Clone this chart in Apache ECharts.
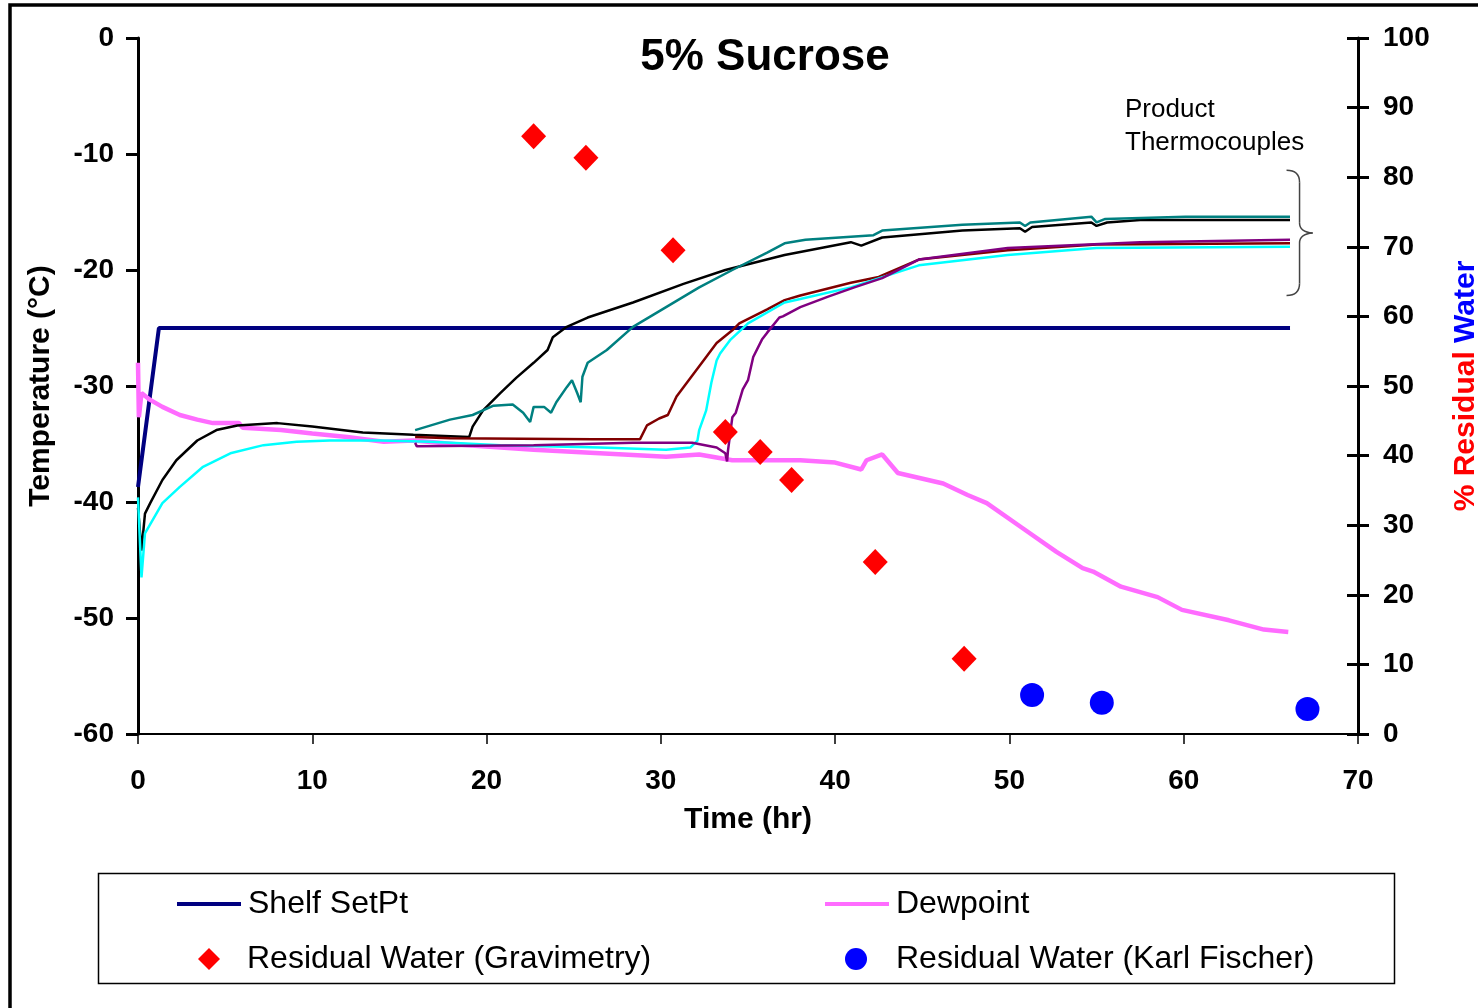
<!DOCTYPE html>
<html>
<head>
<meta charset="utf-8">
<title>5% Sucrose</title>
<script src="https://cdn.jsdelivr.net/npm/echarts@6/dist/echarts.min.js"></script>
<style>
  html, body { margin: 0; padding: 0; background: #fff; }
  #chart { width: 1478px; height: 1008px; }
</style>
</head>
<body>
<div id="chart"></div>
<script>
// Time axis (hr) and the two value axes
const timeTicks = [0, 10, 20, 30, 40, 50, 60, 70];
const tempTicks = [-60, -50, -40, -30, -20, -10, 0];
const waterTicks = [0, 10, 20, 30, 40, 50, 60, 70, 80, 90, 100];

// Shelf set point, [time hr, temperature °C]
const shelfSetPt = [[0, -38.7], [1.2, -25], [66.1, -25]];

// Chamber dewpoint, [time hr, °C]
const dewpoint = [
  [0, -28.0], [0.05, -32.7], [0.2, -30.6], [0.7, -31.2], [1.4, -31.8], [2.4, -32.5],
  [3.4, -32.9], [4.3, -33.2], [5.8, -33.2], [6.0, -33.6], [8.2, -33.8], [10.0, -34.1],
  [12.0, -34.4], [14.1, -34.8], [15.8, -34.7], [18.9, -35.1], [22.7, -35.5], [26.5, -35.8],
  [30.3, -36.1], [32.2, -35.9], [34.1, -36.4], [38.0, -36.4], [40.0, -36.6], [41.5, -37.2],
  [41.8, -36.4], [42.7, -35.9], [43.6, -37.5], [46.2, -38.4], [47.6, -39.4], [48.7, -40.1],
  [50.7, -42.2], [52.7, -44.3], [54.2, -45.7], [54.8, -46.0], [56.4, -47.3], [58.5, -48.2],
  [59.9, -49.3], [62.6, -50.2], [64.6, -51.0], [66.0, -51.2]
];

// Product thermocouples, [time hr, °C]
const tcBlack = [
  [0, -40.5], [0.2, -44.2], [0.4, -41.0], [0.7, -40.1], [1.4, -38.1], [2.2, -36.4],
  [3.4, -34.7], [4.5, -33.8], [5.7, -33.4], [8.0, -33.2], [10.0, -33.5], [12.9, -34.0],
  [15.8, -34.2], [19.0, -34.4], [19.2, -33.5], [19.8, -32.1], [20.8, -30.6], [21.7, -29.3],
  [22.7, -28.0], [23.5, -26.9], [23.8, -25.8], [24.6, -24.9], [25.8, -24.1], [28.4, -22.8],
  [31.3, -21.2], [33.7, -20.0], [37.1, -18.7], [40.9, -17.6], [41.5, -17.9], [42.7, -17.2],
  [47.3, -16.6], [50.6, -16.4], [50.9, -16.7], [51.3, -16.3], [54.7, -15.9], [55.0, -16.2],
  [55.6, -15.9], [57.5, -15.7], [66.1, -15.7]
];
const tcTeal = [
  [15.9, -33.8], [17.9, -32.9], [19.2, -32.5], [20.4, -31.7], [21.5, -31.6], [22.1, -32.3],
  [22.5, -33.1], [22.7, -31.8], [23.3, -31.8], [23.7, -32.3], [24.0, -31.4], [24.6, -30.1],
  [24.9, -29.5], [25.2, -30.6], [25.4, -31.4], [25.5, -29.2], [25.8, -28.0], [26.9, -26.9],
  [28.4, -24.9], [30.3, -23.2], [32.2, -21.5], [34.1, -20.0], [36.1, -18.5], [37.1, -17.7],
  [38.3, -17.4], [42.2, -17.0], [42.7, -16.6], [47.3, -16.1], [50.6, -15.9], [50.9, -16.2],
  [51.2, -15.9], [54.7, -15.4], [55.0, -15.9], [55.5, -15.6], [60.1, -15.4], [66.1, -15.4]
];
const tcMaroon = [
  [15.9, -34.4], [17.9, -34.5], [26.1, -34.6], [28.8, -34.6], [29.2, -33.4], [29.9, -32.8],
  [30.4, -32.5], [30.9, -30.9], [31.9, -28.9], [32.6, -27.5], [33.2, -26.3], [34.1, -25.2],
  [34.5, -24.6], [36.1, -23.4], [37.1, -22.6], [38.0, -22.2], [40.9, -21.1], [42.5, -20.6],
  [44.8, -19.1], [49.9, -18.3], [55.0, -17.8], [66.1, -17.7]
];
const tcCyan = [
  [0, -39.6], [0.2, -46.5], [0.4, -42.7], [1.4, -40.1], [2.4, -38.7], [3.7, -37.0],
  [5.3, -35.8], [7.2, -35.1], [9.1, -34.8], [11.0, -34.7], [13.9, -34.7], [16.8, -34.8],
  [20.8, -35.1], [26.5, -35.3], [30.3, -35.5], [31.7, -35.3], [32.1, -34.7], [32.2, -33.8],
  [32.6, -32.1], [32.9, -29.7], [33.2, -27.8], [33.4, -27.2], [34.0, -26.0], [35.0, -24.6],
  [37.1, -22.8], [38.0, -22.5], [40.9, -21.5], [44.8, -19.6], [49.9, -18.7], [55.0, -18.1],
  [66.1, -18.0]
];
const tcPurple = [
  [15.9, -34.9], [16.0, -35.2], [22.7, -35.1], [28.4, -34.9], [31.8, -34.9], [33.2, -35.3],
  [33.7, -35.8], [33.8, -36.5], [33.85, -35.6], [34.1, -32.7], [34.3, -32.3], [34.7, -30.3],
  [35.0, -29.5], [35.3, -27.5], [35.8, -26.0], [36.1, -25.4], [36.8, -24.1], [37.0, -24.0],
  [38.0, -23.2], [39.6, -22.3], [41.1, -21.5], [42.7, -20.7], [44.8, -19.1], [49.9, -18.1],
  [57.5, -17.6], [66.1, -17.4]
];

// Residual water (%), gravimetric and Karl Fischer samples
const gravTimes = [22.7, 25.7, 30.7, 33.7, 35.7, 37.5, 42.3, 47.4];
const gravWater = [85.9, 82.8, 69.5, 43.4, 40.5, 36.5, 24.7, 10.8];
const kfTimes = [51.3, 55.3, 67.1];
const kfWater = [5.6, 4.5, 3.6];

const FONT = 'Arial, "Liberation Sans", Helvetica, sans-serif';
const zip = (xs, ys) => xs.map((x, i) => [x, ys[i]]);

const chart = echarts.init(document.getElementById('chart'), null, { renderer: 'canvas' });

const tcLine = (name, data, color) => ({
  name, type: 'line', data, xAxisIndex: 0, yAxisIndex: 0, symbol: 'none', z: 3,
  lineStyle: { color, width: 2.5 }, itemStyle: { color }
});

const legendText = { fontFamily: FONT, fontSize: 32, color: '#000' };
const legendBase = { orient: 'horizontal', itemGap: 0, selectedMode: false, padding: 0 };

const plotRect = {
  left: 138, top: 38, width: 1220, height: 696, containLabel: false, outerBoundsMode: 'none'
};

const option = {
  animation: false,
  backgroundColor: '#fff',
  grid: [Object.assign({}, plotRect), Object.assign({}, plotRect)],
  xAxis: [
    {
      type: 'value', gridIndex: 0, min: 0, max: 70, interval: 10,
      name: 'Time (hr)', nameLocation: 'middle', nameGap: 71,
      nameTextStyle: { fontFamily: FONT, fontSize: 30, fontWeight: 'bold', color: '#000' },
      axisLine: { show: true, onZero: false, lineStyle: { color: '#000', width: 2 } },
      axisTick: { show: true, length: 10, lineStyle: { color: '#000', width: 1.5 } },
      axisLabel: {
        fontFamily: FONT, fontSize: 28, fontWeight: 'bold', color: '#000', margin: 33,
        formatter: v => (timeTicks.includes(v) ? String(v) : '')
      },
      splitLine: { show: false }
    },
    {
      // companion axis for the inner tick marks on the right
      type: 'value', gridIndex: 1, min: 0, max: 70, show: false
    }
  ],
  yAxis: [
    {
      type: 'value', gridIndex: 0, min: -60, max: 0, interval: 10, position: 'left',
      name: 'Temperature (°C)', nameLocation: 'middle', nameGap: 82, nameRotate: 90,
      nameTextStyle: { fontFamily: FONT, fontSize: 30, fontWeight: 'bold', color: '#000' },
      axisLine: { show: true, onZero: false, lineStyle: { color: '#000', width: 3 } },
      axisTick: { show: true, length: 12, lineStyle: { color: '#000', width: 3 } },
      axisLabel: {
        fontFamily: FONT, fontSize: 28, fontWeight: 'bold', color: '#000', margin: 24,
        formatter: v => (tempTicks.includes(v) ? String(v) : '')
      },
      splitLine: { show: false }
    },
    {
      type: 'value', gridIndex: 0, min: 0, max: 100, interval: 10, position: 'right',
      name: '{r|% Residual} {b|Water}', nameLocation: 'middle', nameGap: 93, nameRotate: 90,
      nameTextStyle: {
        fontFamily: FONT, fontSize: 30, fontWeight: 'bold',
        rich: {
          r: { fontFamily: FONT, fontSize: 30, fontWeight: 'bold', color: '#ff0000' },
          b: { fontFamily: FONT, fontSize: 30, fontWeight: 'bold', color: '#0000ff' }
        }
      },
      axisLine: { show: true, onZero: false, lineStyle: { color: '#000', width: 3 } },
      axisTick: { show: true, length: 11, lineStyle: { color: '#000', width: 3 } },
      axisLabel: {
        fontFamily: FONT, fontSize: 28, fontWeight: 'bold', color: '#000', margin: 25,
        formatter: v => (waterTicks.includes(v) ? String(v) : '')
      },
      splitLine: { show: false }
    },
    {
      // inner half of the crossing ticks on the right-hand axis
      type: 'value', gridIndex: 1, min: 0, max: 100, interval: 10, position: 'right',
      axisLine: { show: false, onZero: false },
      axisTick: { show: true, inside: true, length: 11, lineStyle: { color: '#000', width: 3 } },
      axisLabel: { show: false },
      splitLine: { show: false }
    }
  ],
  legend: [
    Object.assign({}, legendBase, {
      data: [{ name: 'Shelf SetPt', icon: 'rect' }], left: 177, top: 888,
      itemWidth: 64, itemHeight: 4, textStyle: Object.assign({ padding: [0, 0, 0, 2] }, legendText)
    }),
    Object.assign({}, legendBase, {
      data: [{ name: 'Dewpoint', icon: 'rect' }], left: 825, top: 888,
      itemWidth: 64, itemHeight: 4, textStyle: Object.assign({ padding: [0, 0, 0, 2] }, legendText)
    }),
    Object.assign({}, legendBase, {
      data: [{ name: 'Residual Water (Gravimetry)', icon: 'diamond' }], left: 198, top: 943,
      itemWidth: 22, itemHeight: 22, textStyle: Object.assign({ padding: [0, 0, 0, 22] }, legendText)
    }),
    Object.assign({}, legendBase, {
      data: [{ name: 'Residual Water (Karl Fischer)', icon: 'circle' }], left: 845, top: 943,
      itemWidth: 22, itemHeight: 22, textStyle: Object.assign({ padding: [0, 0, 0, 24] }, legendText)
    })
  ],
  series: [
    {
      name: 'Shelf SetPt', type: 'line', data: shelfSetPt, xAxisIndex: 0, yAxisIndex: 0,
      symbol: 'none', z: 2,
      lineStyle: { color: '#000080', width: 4 }, itemStyle: { color: '#000080' }
    },
    {
      name: 'Dewpoint', type: 'line', data: dewpoint, xAxisIndex: 0, yAxisIndex: 0,
      symbol: 'none', z: 2,
      lineStyle: { color: '#ff6cff', width: 4.5 }, itemStyle: { color: '#ff6cff' }
    },
    tcLine('Product TC 1', tcBlack, '#000000'),
    tcLine('Product TC 2', tcTeal, '#008080'),
    tcLine('Product TC 3', tcMaroon, '#800000'),
    tcLine('Product TC 4', tcCyan, '#00ffff'),
    tcLine('Product TC 5', tcPurple, '#800080'),
    {
      name: 'Residual Water (Gravimetry)', type: 'scatter', xAxisIndex: 0, yAxisIndex: 1, z: 5,
      data: zip(gravTimes, gravWater), symbol: 'diamond', symbolSize: [25, 26],
      itemStyle: { color: '#ff0000', opacity: 1 }
    },
    {
      name: 'Residual Water (Karl Fischer)', type: 'scatter', xAxisIndex: 0, yAxisIndex: 1, z: 5,
      data: zip(kfTimes, kfWater), symbol: 'circle', symbolSize: 24,
      itemStyle: { color: '#0000ff', opacity: 1 }
    }
  ],
  graphic: [
    {
      id: 'frame', type: 'rect', z: -10, silent: true,
      shape: { x: 10, y: 5, width: 1500, height: 1040 },
      style: { fill: null, stroke: '#000', lineWidth: 3.5 }
    },
    {
      id: 'legendBox', type: 'rect', z: -5, silent: true,
      shape: { x: 98.5, y: 873.5, width: 1296, height: 110 },
      style: { fill: null, stroke: '#000', lineWidth: 1.5 }
    },
    {
      id: 'title', type: 'text', x: 765, y: 58, silent: true,
      style: {
        text: '5% Sucrose', fontFamily: FONT, fontSize: 44, fontWeight: 'bold', fill: '#000',
        align: 'center', verticalAlign: 'middle'
      }
    },
    {
      id: 'tcNote', type: 'text', x: 1125, y: 93, silent: true,
      style: {
        text: 'Product\nThermocouples', fontFamily: FONT, fontSize: 26, fill: '#000',
        lineHeight: 33, align: 'left', verticalAlign: 'top'
      }
    }
  ]
};

chart.setOption(option);

// Curly brace grouping the thermocouple traces, placed in axis coordinates
function braceParts() {
  const p = (t, T) => chart.convertToPixel({ xAxisIndex: 0, yAxisIndex: 0 }, [t, T]);
  const top = p(65.9, -11.4), bot = p(65.9, -22.2), mid = p(67.4, -16.8);
  const x0 = top[0], xs = x0 + 13, xm = mid[0];
  const y0 = top[1], y1 = bot[1], ym = mid[1];
  const curve = (ax, ay, cx, cy, bx, by) => ({
    type: 'bezierCurve', silent: true,
    style: { fill: null, stroke: '#444', lineWidth: 1.5 },
    shape: { x1: ax, y1: ay, x2: bx, y2: by, cpx1: cx, cpy1: cy }
  });
  const seg = (ax, ay, bx, by) => ({
    type: 'line', silent: true,
    style: { fill: null, stroke: '#444', lineWidth: 1.5 },
    shape: { x1: ax, y1: ay, x2: bx, y2: by }
  });
  return [
    curve(x0, y0, xs, y0, xs, y0 + 12),
    seg(xs, y0 + 12, xs, ym - 10),
    curve(xs, ym - 10, xs, ym - 1, xm, ym),
    curve(xm, ym, xs, ym + 1, xs, ym + 10),
    seg(xs, ym + 10, xs, y1 - 12),
    curve(xs, y1 - 12, xs, y1, x0, y1)
  ];
}
option.graphic.push({ id: 'brace', type: 'group', silent: true, children: braceParts() });
chart.setOption(option, true);
</script>
</body>
</html>
